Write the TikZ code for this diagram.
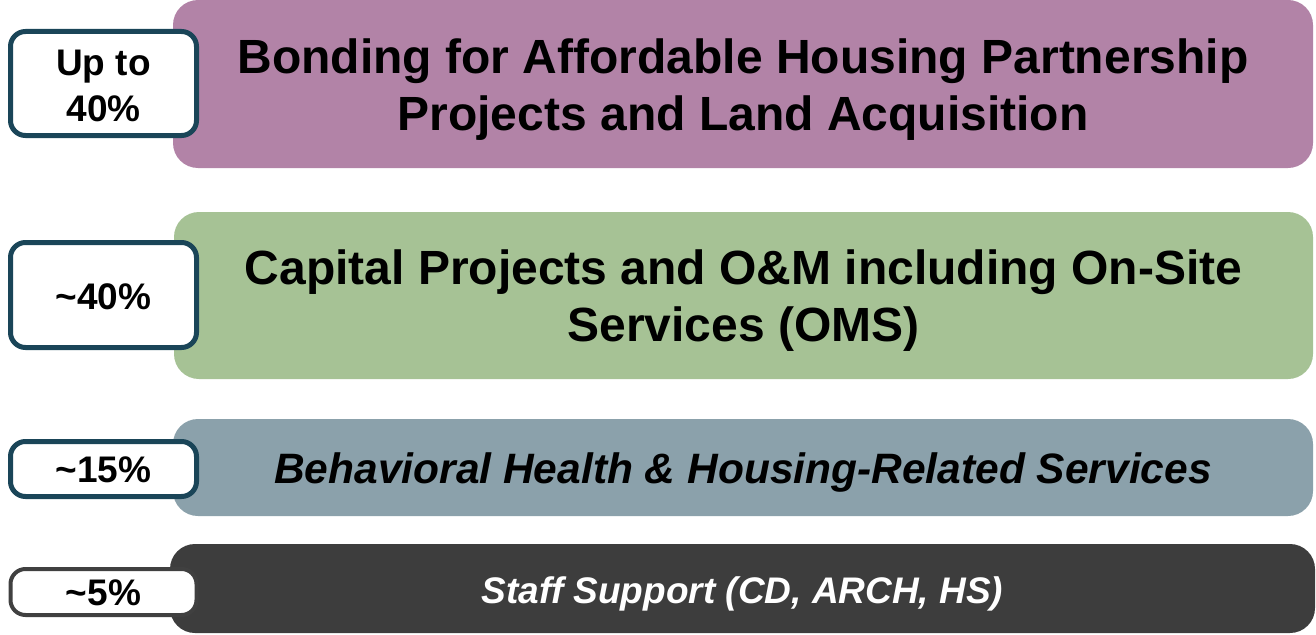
\documentclass[tikz,border=0pt]{standalone}
\usepackage{fontspec}
\setmainfont{Liberation Sans}
\definecolor{barmauve}{HTML}{B283A7}
\definecolor{bargreen}{HTML}{A6C295}
\definecolor{barslate}{HTML}{8BA1AB}
\definecolor{bardark}{HTML}{3D3D3D}
\definecolor{shareteal}{HTML}{1A4558}
\definecolor{sharegrey}{HTML}{404040}
\tikzset{
	bar/.style={rounded corners=25pt, inner sep=0pt, align=center, text depth=0pt},
	share/.style={draw=shareteal, line width=5pt, fill=white, rounded corners=15pt,
		inner sep=0pt, align=center, minimum width=186pt, text depth=0pt,
		font=\fontsize{37}{46}\selectfont\bfseries},
}

\begin{document}
\begin{tikzpicture}[x=1pt,y=-1pt]
		%%%%% START %%%%%
		\useasboundingbox (0,0) rectangle (1316,634);
		
		% bars
		\node[bar, fill=barmauve, minimum width=1140pt, minimum height=168pt, text height=92pt,
			font=\fontsize{48}{57}\selectfont\bfseries] (bonding) at (743,84)
			{Bonding for Affordable Housing Partnership\\Projects and Land Acquisition};
		\node[bar, fill=bargreen, minimum width=1139pt, minimum height=167pt, text height=91pt,
			font=\fontsize{48}{57}\selectfont\bfseries] (capital) at (743.5,295.5)
			{Capital Projects and O\&M including On-Site\\Services (OMS)};
		\node[bar, fill=barslate, minimum width=1140pt, minimum height=97pt, text height=31pt,
			font=\fontsize{42.5}{50}\selectfont\bfseries\itshape] (health) at (743,467.5)
			{Behavioral Health \& Housing-Related Services};
		\node[bar, fill=bardark, text=white, minimum width=1145pt, minimum height=89pt, text height=29pt,
			font=\fontsize{37}{44}\selectfont\bfseries\itshape] (staff) at (742.5,588.5)
			{Staff Support (CD, ARCH, HS)};
		
		% shares
		\node[share, minimum height=104pt, text height=75pt] (upto) at (103.5,83.5) {Up to\\40\%};
		\node[share, minimum height=105pt, text height=28.6pt] (forty) at (103.5,295) {\textasciitilde40\%};
		\node[share, minimum height=55pt, text height=27.4pt] (fifteen) at (103.5,469) {\textasciitilde15\%};
		\node[share, draw=sharegrey, line width=4pt, minimum height=46pt, text height=26pt] (five) at (103.5,592) {\textasciitilde5\%};
		
		%%%%% END %%%%%
\end{tikzpicture}
\end{document}
